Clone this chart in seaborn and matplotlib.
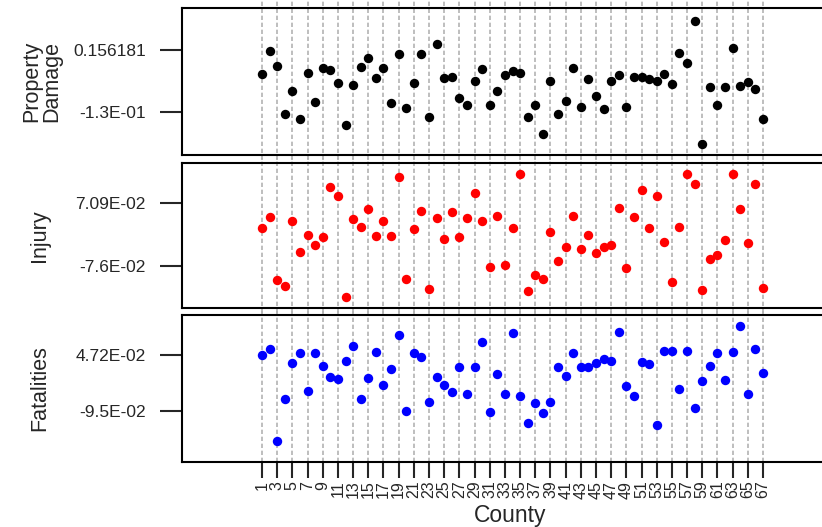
import numpy as np
import pandas as pd
import matplotlib
matplotlib.use("Agg")
import matplotlib.pyplot as plt
import seaborn as sns

# county index 1..67
county = list(range(1, 68))

property_damage = [
    0.0454, 0.1530, 0.0837, -0.1379, -0.0331, -0.1609, 0.0486, -0.0825, 0.0717, 0.0639,
    0.0053, -0.1900, -0.0054, 0.0791, 0.1179, 0.0270, 0.0717, -0.0871, 0.1363, -0.1129,
    0.0053, 0.1363, -0.1517, 0.1825, 0.0256, 0.0330, -0.0668, -0.0977, 0.0145, 0.0699,
    -0.0991, -0.0317, 0.0408, 0.0606, 0.0486, -0.1517, -0.0977, -0.2316, 0.0145, -0.1393,
    -0.0778, 0.0731, -0.1055, 0.0237, -0.0562, -0.1175, 0.0131, 0.0422, -0.1055, 0.0330,
    0.0330, 0.0223, 0.0145, 0.0454, -0.0008, 0.1410, 0.0948, 0.2914, -0.2777, -0.0160,
    -0.0977, -0.0132, 0.1640, -0.0100, 0.0099, -0.0252, -0.1637,
]

injury = [
    0.0133, 0.0390, -0.1080, -0.1220, 0.0296, -0.0441, -0.0030, -0.0270, -0.0091, 0.1089,
    0.0879, -0.1476, 0.0336, 0.0156, 0.0576, -0.0061, 0.0289, -0.0054, 0.1322, -0.1056,
    0.0110, 0.0527, -0.1290, 0.0359, -0.0138, 0.0499, -0.0084, 0.0359, 0.0942, 0.0296,
    -0.0777, 0.0413, -0.0730, 0.0126, 0.1385, -0.1336, -0.0970, -0.1063, 0.0040, -0.0637,
    -0.0317, 0.0399, -0.0371, -0.0030, -0.0457, -0.0317, -0.0270, 0.0599, -0.0814, 0.0390,
    0.1019, 0.0126, 0.0879, -0.0200, -0.1133, 0.0156, 0.1385, 0.1152, -0.1320, -0.0597,
    -0.0511, -0.0161, 0.1385, 0.0569, -0.0224, 0.1159, -0.1266,
]

fatalities = [
    0.0472, 0.0632, -0.1704, -0.0645, 0.0269, 0.0523, -0.0442, 0.0530, 0.0200, -0.0087,
    -0.0130, 0.0327, 0.0701, -0.0638, -0.0112, 0.0556, -0.0290, 0.0117, 0.0980, -0.0942,
    0.0515, 0.0429, -0.0714, -0.0079, -0.0282, -0.0475, 0.0175, -0.0526, 0.0175, 0.0810,
    -0.0968, -0.0018, -0.0518, 0.1038, -0.0561, -0.1255, -0.0739, -0.0993, -0.0714, 0.0175,
    -0.0054, 0.0530, 0.0175, 0.0175, 0.0261, 0.0378, 0.0327, 0.1048, -0.0307, -0.0577,
    0.0302, 0.0236, -0.1305, 0.0574, 0.0574, -0.0384, 0.0574, -0.0866, -0.0188, 0.0200,
    0.0523, -0.0155, 0.0556, 0.1201, -0.0511, 0.0632, 0.0023,
]

panel_labels = ["Property\nDamage", "Injury", "Fatalities"]
panel_colors = ["black", "red", "blue"]
panel_yticks = [[0.156181, -0.13], [0.0709, -0.076], [0.0472, -0.095]]
panel_yticklabels = [["0.156181", "-1.3E-01"], ["7.09E-02", "-7.6E-02"], ["4.72E-02", "-9.5E-02"]]
panel_ylims = [(-0.328, 0.350), (-0.174, 0.164), (-0.225, 0.149)]
xtick_vals = list(range(1, 68, 2))

df = pd.DataFrame({
    "County": county,
    "Property Damage": property_damage,
    "Injury": injury,
    "Fatalities": fatalities,
})
cols = ["Property Damage", "Injury", "Fatalities"]

sns.set_style("white")
plt.rcParams["font.family"] = ["Liberation Sans", "DejaVu Sans"]

fig = plt.figure(figsize=(8.22, 5.27), dpi=100)
W, H = 822, 527
left_px, right_px = 182, 826
panels_px = [(8, 155), (163, 308), (315, 462)]
label_right_px = [62, 50, 50]

for i, col in enumerate(cols):
    top, bot = panels_px[i]
    ax = fig.add_axes([left_px / W, 1 - bot / H, (right_px - left_px) / W, (bot - top) / H])
    # dashed guides at odd counties
    ext_top = 1 + (8 / (bot - top) if i == 0 else 4.5 / (bot - top))
    ext_bot = -4.5 / (bot - top) if i < 2 else 0
    for xv in xtick_vals:
        ax.axvline(xv, ymin=ext_bot, ymax=ext_top, color="#b3b3b3", lw=1.2,
                   ls=(0, (2.6, 1.6)), clip_on=False, zorder=0)
    sns.scatterplot(data=df, x="County", y=col, color=panel_colors[i], s=46,
                    linewidth=0, ax=ax, zorder=3)
    ax.set_xlim(-9.54, 75.3)
    ax.set_ylim(*panel_ylims[i])
    ax.set_yticks(panel_yticks[i])
    ax.set_yticklabels(panel_yticklabels[i], fontsize=12.5)
    ax.tick_params(axis="y", length=16, width=1.5, pad=10, direction="out", left=True)
    for sp in ax.spines.values():
        sp.set_linewidth(1.5)
        sp.set_color("black")
    ax.set_ylabel(panel_labels[i], fontsize=15.5, linespacing=0.95)
    ax.yaxis.set_label_coords((label_right_px[i] - left_px) / (right_px - left_px), 0.5)
    if i < 2:
        ax.set_xticks([])
        ax.set_xlabel("")
    else:
        ax.set_xticks(xtick_vals)
        ax.set_xticklabels([str(v) for v in xtick_vals], rotation=90, fontsize=11.5)
        ax.tick_params(axis="x", length=11.5, width=1.5, pad=2, direction="out", bottom=True)
        ax.set_xlabel("County", fontsize=16.5)
        ax.xaxis.set_label_coords((510 - left_px) / (right_px - left_px), -0.285)

fig.savefig("out.png", dpi=100)
